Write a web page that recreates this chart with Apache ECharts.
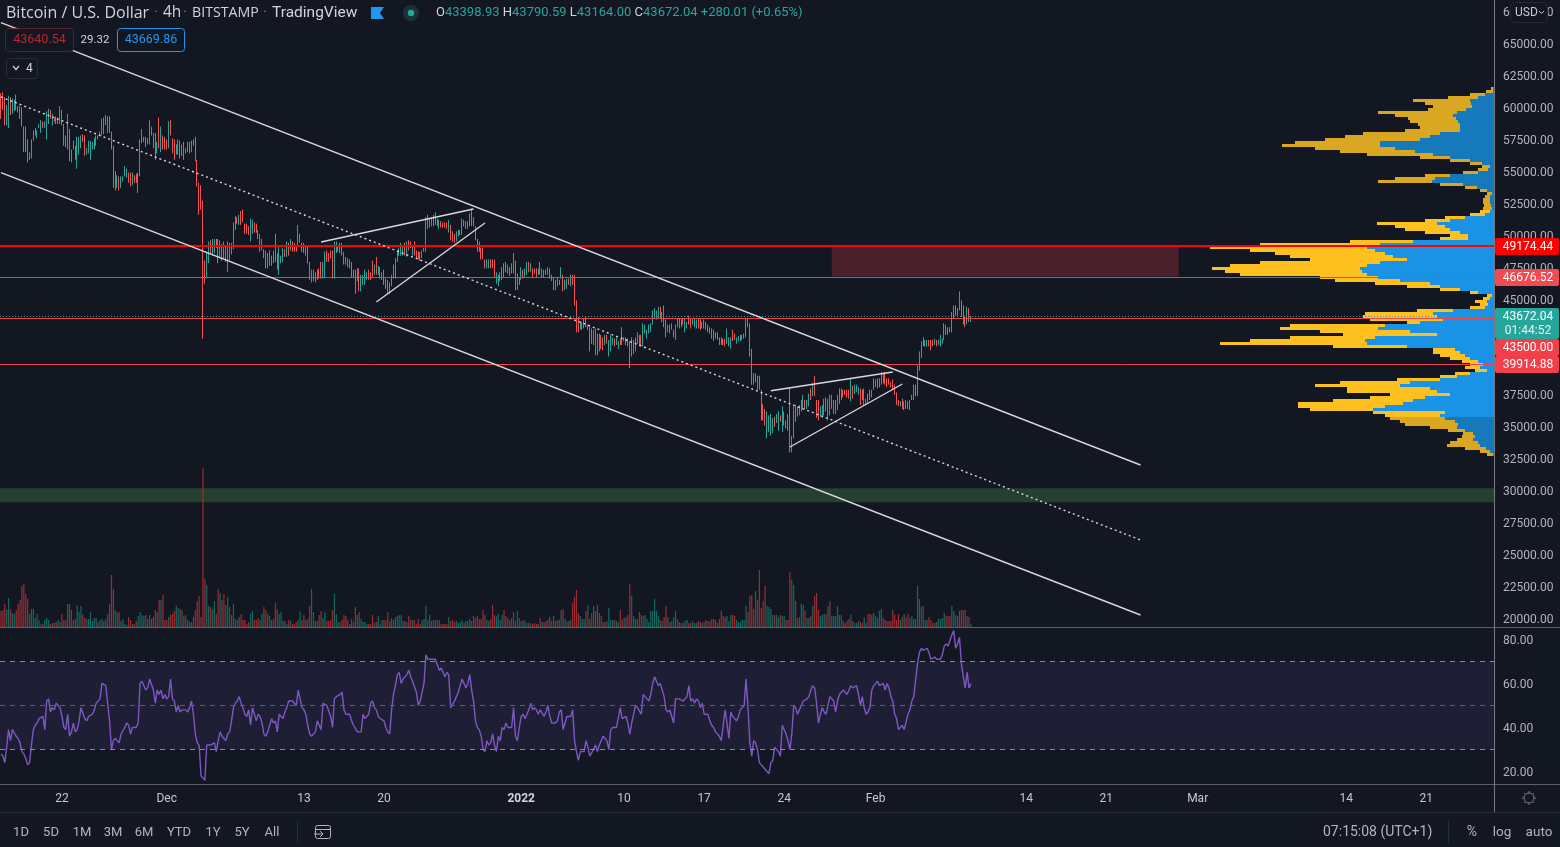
<!DOCTYPE html>
<html><head><meta charset="utf-8">
<style>html,body{margin:0;padding:0;width:1560px;height:847px;overflow:hidden;background:#131722;}
#c{width:1560px;height:847px;}</style>
<script src="https://cdn.jsdelivr.net/npm/echarts@6/dist/echarts.min.js"></script>
</head><body><div id="c"></div>
<script>
// 4h bars, six per line (one day). Each pair is [open, close] in units of $100.
const priceBars = [
[611,591],[612,598],[608,586],[586,602],[584,609],[608,594],
[595,607],[597,606],[610,598],[601,596],[601,591],[600,585],
[585,565],[585,565],[575,557],[559,565],[560,575],[574,582],
[578,584],[576,582],[584,587],[580,590],[589,584],[584,589],
[575,597],[587,599],[598,591],[586,595],[592,589],[593,587],
[587,592],[587,601],[598,586],[587,570],[578,569],[567,595],
[583,558],[567,557],[567,574],[570,559],[552,577],[563,577],
[568,578],[579,573],[578,562],[563,568],[564,574],[559,574],
[567,573],[567,576],[570,578],[578,575],[578,581],[578,591],
[579,592],[594,586],[580,593],[593,580],[581,567],[570,537],
[535,550],[537,547],[546,535],[537,546],[542,546],[546,554],
[545,552],[549,541],[549,538],[539,549],[547,541],[548,541],
[533,549],[546,575],[572,583],[573,577],[577,569],[571,576],
[571,590],[585,578],[580,568],[580,559],[564,573],[592,568],
[565,585],[578,567],[577,567],[575,567],[568,589],[590,578],
[576,564],[575,559],[563,571],[563,575],[574,560],[562,571],
[573,559],[564,568],[565,573],[573,564],[565,574],[575,570],
[577,558],[559,538],[541,516],[539,520],[527,419],[480,462],
[466,487],[478,495],[496,485],[484,497],[486,497],[497,490],
[497,478],[482,496],[493,480],[495,482],[479,491],[471,495],
[494,480],[485,494],[489,510],[504,515],[514,509],[508,516],
[519,508],[520,510],[509,501],[509,501],[507,500],[495,513],
[501,512],[510,502],[509,502],[504,497],[487,501],[488,497],
[489,482],[488,474],[474,486],[476,488],[484,476],[478,488],
[501,479],[486,473],[469,491],[478,484],[479,490],[489,483],
[483,495],[494,484],[488,497],[495,487],[494,487],[492,487],
[492,508],[494,501],[494,487],[494,486],[484,491],[491,478],
[479,465],[463,473],[464,473],[463,471],[465,473],[474,466],
[479,466],[466,479],[467,487],[488,479],[486,479],[488,482],
[488,466],[466,495],[486,495],[487,492],[494,486],[494,484],
[487,477],[483,477],[482,475],[481,474],[479,467],[467,473],
[473,454],[464,474],[474,456],[456,469],[461,469],[461,473],
[465,471],[473,465],[471,465],[480,466],[469,477],[483,469],
[469,476],[466,475],[465,471],[473,461],[466,458],[465,454],
[463,454],[460,469],[466,477],[466,482],[479,488],[484,490],
[484,494],[484,492],[494,484],[483,495],[496,488],[495,490],
[484,492],[495,484],[488,482],[487,481],[487,480],[482,488],
[487,490],[487,514],[516,505],[506,513],[507,514],[516,507],
[508,518],[513,507],[505,512],[511,506],[510,506],[510,506],
[510,505],[502,512],[508,496],[503,495],[501,494],[495,503],
[499,504],[500,504],[500,513],[512,507],[505,511],[505,511],
[507,517],[521,507],[514,507],[507,496],[497,487],[495,487],
[490,481],[490,481],[481,474],[474,481],[474,481],[481,474],
[481,474],[481,467],[462,471],[460,469],[464,471],[465,475],
[478,467],[479,471],[470,477],[475,468],[478,470],[470,486],
[480,457],[457,470],[461,467],[465,475],[473,466],[467,474],
[469,479],[479,471],[471,478],[474,467],[474,470],[474,467],
[469,474],[479,469],[467,474],[473,467],[473,469],[469,475],
[474,466],[469,464],[457,467],[457,465],[460,467],[465,461],
[466,475],[469,456],[457,465],[458,466],[466,461],[460,469],
[469,461],[469,445],[449,424],[436,424],[426,432],[426,432],
[427,435],[436,428],[426,430],[428,409],[427,415],[414,426],
[406,427],[423,406],[409,423],[422,411],[420,410],[414,422],
[422,415],[405,418],[409,422],[414,420],[419,413],[414,420],
[411,417],[419,414],[428,414],[417,420],[420,414],[419,413],
[417,396],[405,420],[407,418],[409,420],[415,424],[422,413],
[422,413],[413,431],[423,430],[419,426],[423,430],[424,431],
[430,441],[435,443],[434,441],[435,444],[444,435],[432,440],
[445,428],[434,420],[424,430],[430,423],[426,431],[420,426],
[418,430],[435,428],[427,435],[434,428],[435,430],[424,435],
[427,432],[437,430],[435,427],[430,434],[428,435],[427,434],
[435,427],[434,426],[427,432],[427,434],[432,426],[430,424],
[428,423],[427,419],[426,417],[424,419],[424,418],[420,414],
[420,414],[419,414],[419,413],[415,427],[413,420],[411,420],
[426,417],[423,418],[415,420],[417,421],[417,422],[418,422],
[419,423],[420,435],[435,428],[431,405],[411,383],[392,383],
[385,392],[390,379],[390,379],[379,355],[368,355],[364,351],
[341,362],[346,359],[343,360],[345,357],[358,350],[353,360],
[347,362],[359,354],[346,366],[351,362],[355,349],[360,347],
[381,330],[330,343],[341,366],[367,354],[366,358],[359,367],
[362,371],[364,375],[371,364],[364,371],[366,376],[380,371],
[374,384],[390,374],[371,357],[371,355],[358,366],[357,367],
[359,372],[373,362],[355,372],[375,359],[364,375],[360,371],
[360,371],[363,375],[368,380],[371,380],[379,373],[379,375],
[379,373],[379,372],[370,388],[382,372],[376,383],[377,383],
[375,381],[380,367],[379,371],[367,380],[367,372],[376,369],
[379,371],[373,379],[379,388],[381,387],[380,388],[381,388],
[383,393],[392,384],[393,383],[388,381],[388,383],[385,381],
[387,379],[383,375],[377,367],[371,366],[366,370],[372,364],
[363,370],[371,364],[370,364],[363,371],[371,375],[371,383],
[383,374],[374,398],[394,409],[404,417],[420,413],[413,418],
[413,418],[418,413],[418,410],[418,413],[414,419],[418,413],
[414,418],[413,422],[415,419],[418,431],[430,422],[428,422],
[428,424],[424,440],[435,445],[445,437],[437,443],[441,456],
[449,436],[445,430],[437,428],[430,444],[443,432],[432,437]
];
// Volume per bar, hundreds of BTC-like units (six per line).
const volumes = [
16,17,23,17,29,18, 14,13,17,23,27,41, 43,33,28,13,18,18, 9,13,7,3,3,7, 9,7,3,4,4,5,
7,5,13,7,7,23, 23,17,7,8,22,15, 21,12,9,8,8,15, 6,9,9,5,7,8, 6,8,13,23,52,38,
17,15,15,6,8,3, 2,10,7,3,3,6, 11,15,12,11,12,8, 12,8,10,17,15,27, 27,32,7,7,10,12,
13,16,21,19,18,17, 11,12,7,5,5,10, 17,26,31,10,159,48, 42,21,20,18,26,13, 38,34,27,33,22,30,
20,12,23,8,7,10, 13,7,7,3,5,13, 16,7,7,9,7,13, 20,17,13,11,7,8, 24,18,13,15,6,6,
3,7,6,3,3,5, 7,15,7,12,7,8, 21,38,15,6,6,12, 16,9,15,6,6,7, 17,33,13,5,5,7,
12,11,7,3,8,5, 20,12,15,8,5,5, 3,3,3,12,4,5, 11,3,7,7,7,15, 6,9,7,10,11,12,
12,6,6,5,11,7, 7,7,3,8,3,7, 8,21,7,12,6,7, 7,7,7,3,3,3, 3,10,6,7,5,6,
4,5,7,4,6,6, 8,6,11,9,11,8, 8,17,12,7,6,8, 22,12,11,13,7,12, 17,11,9,7,9,15,
6,16,9,6,7,6, 4,4,4,3,4,3, 3,9,5,5,6,7, 10,6,11,6,7,7, 17,18,8,5,6,7,
24,30,37,14,11,8, 8,16,22,8,14,21, 16,22,14,11,5,5, 6,19,7,7,7,6, 5,17,7,9,10,12,
43,31,11,8,8,15, 12,11,12,8,5,16, 16,28,16,11,7,6, 10,21,10,5,6,10, 16,8,5,4,4,6,
7,4,4,6,4,4, 6,5,4,5,7,6, 6,8,8,7,4,8, 16,11,10,11,6,12, 12,11,7,5,5,7,
7,21,15,31,32,18, 36,27,57,19,26,41, 21,20,18,12,12,12, 10,12,11,11,7,7, 55,47,42,26,9,10,
23,22,16,9,9,11, 21,31,34,17,11,12, 13,13,21,26,11,11, 11,21,12,12,6,4, 6,8,12,6,4,4,
6,5,4,10,4,13, 13,12,14,11,9,16, 18,9,7,6,6,6, 17,12,7,13,7,10, 13,10,13,9,11,8,
8,41,28,20,21,7, 7,10,7,4,4,5, 8,8,9,14,11,11, 11,21,16,12,11,16, 17,17,17,11,10,3
];
// RSI per bar (six per line).
const rsi = [
28,27,24,31,39,34, 39,39,36,35,33,29, 28,26,23,24,32,39, 41,42,44,44,45,39, 52,53,47,49,48,51,
51,49,45,40,39,46, 36,38,42,38,39,43, 49,49,44,43,45,45, 46,48,51,52,53,60, 60,59,51,43,30,34,
35,35,33,37,37,40, 42,41,37,40,40,40, 42,60,61,61,57,58, 62,62,57,51,57,55, 57,53,55,53,54,62,
53,52,47,50,47,48, 48,48,47,49,52,46, 37,33,32,18,17,16, 32,32,32,32,33,29, 34,38,36,35,34,37,
38,43,49,51,52,54, 51,49,46,45,48,41, 49,49,43,46,45,42, 37,36,38,41,44,42, 43,38,46,45,44,47,
49,52,52,52,52,50, 57,57,49,48,46,41, 37,36,37,38,43,43, 39,51,51,50,50,45, 40,53,54,54,55,56,
48,46,46,46,43,41, 41,38,38,38,46,44, 44,46,51,52,49,48, 45,44,44,43,40,38, 37,48,55,59,64,65,
60,62,62,64,66,63, 61,61,56,50,52,56, 60,73,71,71,71,71, 71,71,66,67,67,63, 65,64,49,49,52,54,
56,59,62,60,58,60, 64,57,52,43,40,39, 36,30,29,34,32,33, 37,32,29,36,34,40, 39,42,40,40,40,49,
36,34,40,45,46,44, 46,48,51,48,49,48, 46,48,48,45,47,50, 45,42,42,42,43,47, 48,39,42,45,45,45,
48,34,29,25,29,29, 29,34,31,27,27,30, 32,29,32,34,36,36, 34,30,39,40,40,40, 40,49,44,44,45,42,
37,42,46,50,49,49, 46,55,54,53,52,55, 60,63,63,59,60,60, 54,48,47,48,48,42, 53,53,53,53,52,52,
54,59,52,53,51,53, 52,49,51,46,46,46, 43,41,40,38,37,36, 34,34,48,42,35,47, 45,44,43,45,48,49,
50,62,49,33,27,34, 33,30,24,24,22,21, 20,19,24,25,31,30, 29,27,41,39,37,34, 30,37,50,49,46,48,
50,52,52,53,54,57, 59,58,51,42,46,49, 47,46,50,54,54,52, 47,52,55,56,57,57, 55,57,59,58,58,59,
55,50,54,49,46,47, 49,57,59,60,61,59, 59,60,57,60,58,54, 52,46,44,39,40,41, 39,39,46,48,52,54,
54,69,74,76,75,75, 76,74,71,71,72,71, 71,71,73,77,78,77, 77,82,84,76,78,81, 69,63,58,65,58,60
];
// Volume-by-price rows, top to bottom: total and buy-side size per row.
const profileTotal = [3,8,24,46,81,69,61,66,116,99,86,84,76,74,89,131,149,169,199,212,179,154,127,74,44,24,12,16,31,69,99,116,54,29,14,7,9,11,11,10,11,14,24,49,69,117,99,89,69,44,54,144,234,284,244,219,204,184,234,264,282,269,254,174,159,119,87,54,24,7,11,19,14,24,77,129,131,124,87,204,214,174,151,204,244,274,161,61,61,54,44,32,24,29,19,39,54,97,154,179,147,147,104,124,161,196,196,184,121,109,104,94,89,64,46,31,32,37,44,47,29,14,7];
const profileUp = [1,1,9,16,24,23,22,28,37,41,38,36,34,34,34,54,64,74,114,114,99,79,61,44,24,12,4,6,16,44,59,62,31,17,7,2,4,4,4,3,2,4,9,29,44,57,49,44,34,26,26,81,114,127,119,109,101,87,114,127,134,132,127,116,94,64,54,34,16,2,4,7,6,9,41,61,57,51,74,109,116,84,57,119,129,127,87,39,34,29,24,16,11,14,7,24,37,54,84,94,64,57,44,69,81,91,109,121,49,54,49,39,36,37,29,21,19,21,16,14,8,4,1];
const priceTicks = [20000,22500,25000,27500,30000,32500,35000,37500,40000,42500,45000,47500,50000,52500,55000,57500,60000,62500,65000,67500];
const rsiTicks = [20,40,60,80];
const timeTickLabels = ['22','Dec','13','20','2022','10','17','24','Feb','14','21','Mar','14','21'];
const timeTickBars = [32,87,159,201,273,327,369,411,459,538,580,628,706,748];
const levels = [49174.44,46676.52,43500,39914.88];
const lastClose = 43672.04;
// Drawn trend lines as [bar, price, bar, price].
const channelUpper = [0,66628,598,32013];
const channelMiddle = [0,60813,598,26145];
const channelLower = [0,54889,598,20275];
const wedges = [[168,49465,248,52048],[197,44770,254,50952],[404,37828,468,39292],[414,33422,473,38352]];

const FONT = 'Roboto, "Liberation Sans", sans-serif';
const HEAD = '"Open Sans", Roboto, sans-serif';
const UP='#26a69a', DOWN='#f35254', TXT='#b2b5be';
const SLOTS = 784;
const cats = new Array(SLOTS).fill('');
timeTickBars.forEach((b,i)=>{cats[b]=timeTickLabels[i];});
const candles = priceBars.map(([o,c])=>{const a=o*100,b=c*100;return [a,b,Math.min(a,b),Math.max(a,b)];});
const volData = volumes.map((v,i)=>({value:v,itemStyle:{color:priceBars[i][1]>=priceBars[i][0]?'#17695f':'#9a2e33'}}));
const seg = (a,style)=>[{coord:[a[0],a[1]],lineStyle:style},{coord:[a[2],a[3]]}];
const white={color:'#d6d8de',width:1.4,type:'solid'};
const dotted={color:'#d6d8de',width:1.4,type:[2,3]};
const hline=(v,c,w,t)=>({yAxis:v,lineStyle:{color:c,width:w,type:t||'solid'}});
const VA_FIRST=41, VA_LAST=109;
const inVA=i=>i>=VA_FIRST&&i<=VA_LAST;

const g=[];
const T=(x,y,text,fill,size,align,family)=>g.push({type:'text',x,y,silent:true,style:{text,fill,font:(size||12)+'px '+(family||FONT),textAlign:align||'left',textVerticalAlign:'middle'}});
const R=(x,y,w,h,fill,stroke,r,dash)=>g.push({type:'rect',silent:true,shape:{x,y,width:w,height:h,r:r||0},style:{fill:fill||'none',stroke:stroke||'none',lineWidth:1,lineDash:dash||null}});
const L=(x1,y1,x2,y2,c)=>g.push({type:'line',silent:true,shape:{x1,y1,x2,y2},style:{stroke:c,lineWidth:1}});
const P=(pts,c,w)=>g.push({type:'polyline',silent:true,shape:{points:pts},style:{stroke:c,lineWidth:w||1,fill:'none'}});
// frame
L(0,627.5,1560,627.5,'#5d606b');L(0,784.5,1560,784.5,'#5d606b');L(1494.5,0,1494.5,812,'#787b86');L(0,812.5,1560,812.5,'#2a2e39');
// header
T(6,13,'Bitcoin / U.S. Dollar','#d1d4dc',16,'left',HEAD);
T(154,13,'·','#787b86',15);T(163,13,'4h','#d1d4dc',15.5,'left',HEAD);T(183,13,'·','#787b86',15);
T(192,13,'BITSTAMP','#d1d4dc',14.2,'left',HEAD);T(263,13,'·','#787b86',15);T(272,13,'TradingView','#d1d4dc',15.5);
g.push({type:'polygon',silent:true,shape:{points:[[371,7],[384,7],[380,13],[384,19],[371,19]]},style:{fill:'#2196f3'}});
g.push({type:'circle',silent:true,shape:{cx:411,cy:13,r:8},style:{fill:'#1b3336'}});
g.push({type:'circle',silent:true,shape:{cx:411,cy:13,r:3.2},style:{fill:'#26a69a'}});
g.push({type:'text',x:436,y:13,silent:true,style:{text:'{l|O}{v|43398.93} {l|H}{v|43790.59} {l|L}{v|43164.00} {l|C}{v|43672.04} {v|+280.01 (+0.65%)}',textVerticalAlign:'middle',font:'13px '+FONT,rich:{l:{fill:'#d1d4dc',font:'13px '+FONT},v:{fill:'#26a69a',font:'13px '+FONT}}}});
R(5.5,28.5,68,23,'#131722','#a8262d',3,[1,1]);T(39.5,40,'43640.54','#b8282f',12.5,'center');
T(95,40,'29.32','#d1d4dc',11.5,'center');
R(117.5,28.5,67,23,'#131722','#2196f3',3);T(151,40,'43669.86','#2196f3',12.5,'center');
R(6.5,58.5,31,20,'#131722','#2a2e39',3);P([[13,66],[16,69.5],[19,66]],'#d1d4dc',1.2);T(26,69,'4','#d1d4dc',12);
// price tags
const tag=(y,h,c,t)=>{R(1495,y,64,h,c,null,2);T(1528,y+h/2+.5,t,'#ffffff',12,'center');};
tag(238,17,'#ff0000','49174.44');tag(269,17,'#f14a50','46676.52');
R(1495,308,64,31,'#26a69a',null,2);T(1528,316.5,'43672.04','#ffffff',12,'center');T(1528,331,'01:44:52','#e8f5f3',12,'center');
tag(339,17,'#f23f4a','43500.00');tag(356,17,'#f23f4a','39914.88');
R(1510.5,2.5,37,20,'#131722','#2a2640',4);T(1515,12.5,'USD','#c9ccd6',12);P([[1539,11],[1541.5,13.5],[1544,11]],'#c9ccd6',1);
// gear
g.push({type:'circle',silent:true,shape:{cx:1529,cy:798,r:5},style:{fill:'none',stroke:'#787b86',lineWidth:1}});
[[1529,791,1529,793],[1529,803,1529,805],[1522,798,1524,798],[1534,798,1536,798],[1524,793,1525.5,794.5],[1532.5,801.5,1534,803],[1534,793,1532.5,794.5],[1525.5,801.5,1524,803]].forEach(a=>L(a[0],a[1],a[2],a[3],'#787b86'));
// bottom toolbar
[['1D',21],['5D',51],['1M',82],['3M',113],['6M',144],['YTD',179],['1Y',213],['5Y',242],['All',272]].forEach(a=>T(a[1],832.5,a[0],'#b2b5be',13,'center'));
L(297.5,821,297.5,843,'#2a2e39');
R(315.5,825.5,15,13,null,'#b2b5be',2);L(315,829.5,331,829.5,'#b2b5be');P([[314,834],[323,834]],'#b2b5be',1);P([[320,831],[323,834],[320,837]],'#b2b5be',1);
T(1323,832.5,'07:15:08 (UTC+1)','#b2b5be',14);L(1448.5,821,1448.5,843,'#2a2e39');
T(1472,832.5,'%','#b2b5be',14,'center');T(1502,832.5,'log','#b2b5be',13.5,'center');T(1539,832.5,'auto','#b2b5be',13.5,'center');
g.forEach(e=>{e.z=100;});

const chart=echarts.init(document.getElementById('c'),null,{renderer:'canvas',width:1560,height:847});
const hiddenCat=(grid)=>({type:'category',gridIndex:grid,data:cats,show:false,boundaryGap:true});
chart.setOption({
 animation:false,backgroundColor:'#131722',textStyle:{fontFamily:FONT},
 grid:[
  {left:0,top:0,width:1494,height:627},
  {left:0,top:467,width:1494,height:160},
  {left:0,top:628,width:1494,height:156},
  {left:0,top:87,width:1494,height:369}
 ],
 xAxis:[
  hiddenCat(0),hiddenCat(1),
  {type:'category',gridIndex:2,data:cats,boundaryGap:true,axisLine:{show:false},axisTick:{show:false},splitLine:{show:false},
   axisLabel:{show:true,interval:(i,v)=>v!=='',margin:9,color:'#c5c8d0',fontSize:12,fontFamily:FONT,hideOverlap:false,
    formatter:v=>v==='2022'?'{b|2022}':v,rich:{b:{fontWeight:'bold',color:'#d1d4dc',fontSize:12,fontFamily:FONT}}}},
  {type:'value',gridIndex:3,min:0,max:1494,inverse:true,show:false}
 ],
 yAxis:[
  {type:'value',gridIndex:0,position:'right',min:19335,max:68404,scale:true,splitLine:{show:false},axisLine:{show:false},axisTick:{show:false},
   axisLabel:{customValues:priceTicks,color:TXT,fontSize:12,fontFamily:FONT,margin:9,verticalAlign:'top',lineHeight:3,formatter:v=>v.toFixed(2),hideOverlap:false}},
  {type:'value',gridIndex:1,min:0,max:160,show:false},
  {type:'value',gridIndex:2,position:'right',min:14.3,max:85.2,scale:true,splitLine:{show:false},axisLine:{show:false},axisTick:{show:false},
   axisLabel:{customValues:rsiTicks,color:TXT,fontSize:12,fontFamily:FONT,margin:9,verticalAlign:'top',lineHeight:4,formatter:v=>v.toFixed(2),hideOverlap:false}},
  {type:'category',gridIndex:3,inverse:true,data:profileTotal.map((_,i)=>i),show:false}
 ],
 series:[
  {type:'bar',name:'buy',xAxisIndex:3,yAxisIndex:3,stack:'vp',barWidth:'100%',z:1,silent:true,data:profileUp,
   itemStyle:{color:p=>inVA(p.dataIndex)?'#1a92e6':'#1579bc'}},
  {type:'bar',name:'sell',xAxisIndex:3,yAxisIndex:3,stack:'vp',barWidth:'100%',z:1,silent:true,data:profileTotal.map((t,i)=>t-profileUp[i]),
   itemStyle:{color:p=>inVA(p.dataIndex)?'#fdc01e':'#daa722'}},
  {type:'bar',xAxisIndex:1,yAxisIndex:1,barWidth:1.2,z:2,silent:true,data:volData},
  {type:'candlestick',xAxisIndex:0,yAxisIndex:0,barWidth:1,z:3,silent:true,data:candles,
   itemStyle:{color:UP,color0:DOWN,borderColor:UP,borderColor0:DOWN,borderWidth:1},
   markArea:{silent:true,z:1,data:[
     [{coord:[436,49100],itemStyle:{color:'#4a202b'}},{coord:[618,46760]}],
     [{yAxis:30200,itemStyle:{color:'#26402f'}},{yAxis:29100}]
   ]},
   markLine:{silent:true,symbol:'none',label:{show:false},animation:false,data:[
     hline(levels[0],'#ff0000',2),hline(levels[1],'#d9484f',1),hline(levels[2],'#f23f4a',1),hline(levels[3],'#f23f4a',1),
     hline(lastClose,'#26a69a',1,[1,2]),
     seg(channelUpper,white),seg(channelMiddle,dotted),seg(channelLower,white),
     ...wedges.map(w=>seg(w,white))
   ]}},
  {type:'line',xAxisIndex:2,yAxisIndex:2,data:rsi,symbol:'none',z:3,silent:true,lineStyle:{color:'#7e57c2',width:1.4},
   markArea:{silent:true,data:[[{yAxis:70,itemStyle:{color:'#1e1e34'}},{yAxis:30}]]},
   markLine:{silent:true,symbol:'none',label:{show:false},data:[
     hline(70,'#8a8c96',1,[5,5]),hline(50,'#5f616c',1,[5,5]),hline(30,'#8a8c96',1,[5,5])
   ]}}
 ],
 graphic:{elements:g}
});
</script></body></html>
